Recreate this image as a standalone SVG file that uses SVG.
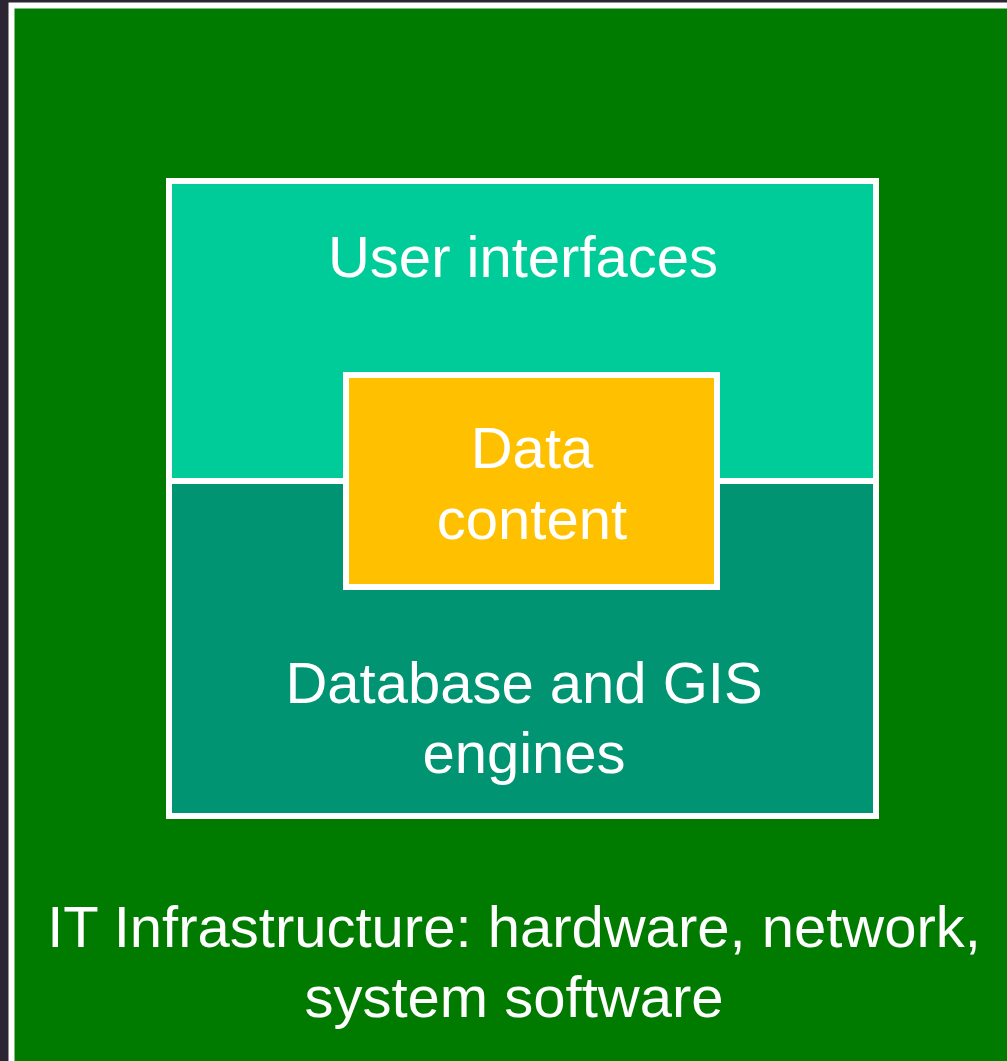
<svg xmlns="http://www.w3.org/2000/svg" width="1007" height="1061" viewBox="0 0 1007 1061">
<style>
text{font-family:"Liberation Sans",Arial,sans-serif;font-size:58px;fill:#ffffff;text-anchor:middle}
.box{stroke:#ffffff;stroke-width:6}
</style>
<rect x="0" y="0" width="1007" height="1061" fill="#2c2534"/>
<g id="infrastructure">
<rect class="box" x="11.5" y="5.5" width="1010" height="1070" fill="#007b00" stroke-width="5"/>
<text x="514" y="947">IT Infrastructure: hardware, network,</text>
<text x="514" y="1017">system software</text>
</g>
<g id="user-interfaces">
<rect class="box" x="169" y="181" width="707" height="300" fill="#00cc99"/>
<text x="523" y="277">User interfaces</text>
</g>
<g id="database-engines">
<rect class="box" x="169" y="481" width="707" height="335" fill="#009473"/>
<text x="524" y="703">Database and GIS</text>
<text x="524" y="773">engines</text>
</g>
<g id="data-content">
<rect class="box" x="346" y="375" width="371" height="212" fill="#ffc000"/>
<text x="532" y="468">Data</text>
<text x="532" y="539">content</text>
</g>
<g id="connectors"></g>
</svg>
